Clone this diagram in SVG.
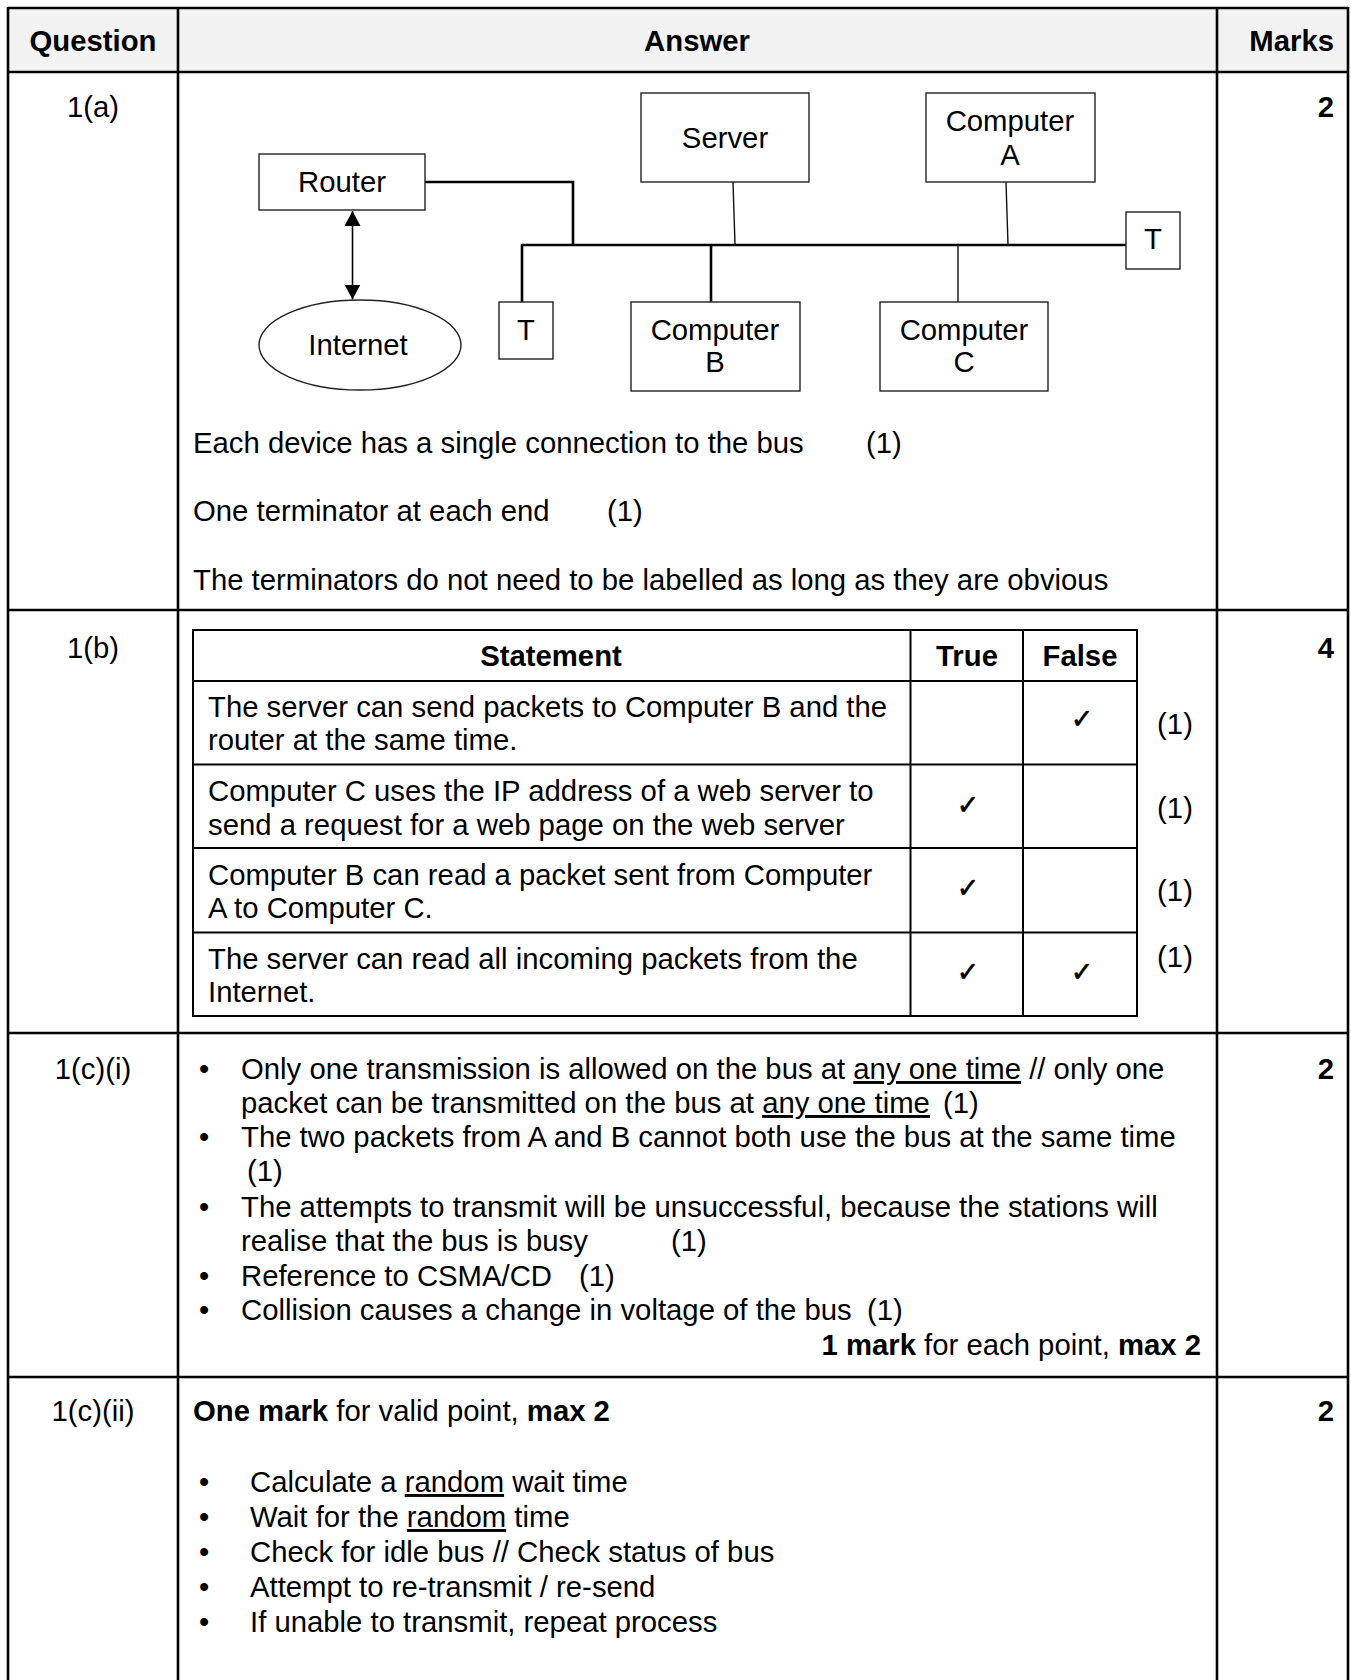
<svg xmlns="http://www.w3.org/2000/svg" width="1351" height="1680" viewBox="0 0 1351 1680">
<style>
text{font-family:"Liberation Sans",Arial,sans-serif;font-size:29.3px;fill:#000}
.b{font-weight:bold}
.c{text-anchor:middle}
.r{text-anchor:end}
.u{text-decoration:underline}
.ck{font-family:"DejaVu Sans",sans-serif;font-size:27px;text-anchor:middle;stroke:#000;stroke-width:0.6}
.grid{stroke:#000;stroke-width:2.6;fill:none}
.inner{stroke:#000;stroke-width:2;fill:none}
.box{fill:#fff;stroke:#222;stroke-width:1.4}
.thick{stroke:#000;stroke-width:2.6;fill:none}
.thin{stroke:#111;stroke-width:1.4;fill:none}
</style>
<defs>
<marker id="ah" viewBox="0 0 15 16" refX="15" refY="8" markerWidth="15" markerHeight="16" markerUnits="userSpaceOnUse" orient="auto-start-reverse">
<path d="M0,0 L15,8 L0,16 z" fill="#000"/>
</marker>
</defs>
<rect width="1351" height="1680" fill="#fff"/>
<rect x="8" y="8" width="1340" height="64" fill="#f2f2f2"/>
<g id="table-grid">
<line class="grid" x1="8" y1="8" x2="1348" y2="8"/>
<line class="grid" x1="8" y1="72" x2="1348" y2="72"/>
<line class="grid" x1="8" y1="610" x2="1348" y2="610"/>
<line class="grid" x1="8" y1="1033" x2="1348" y2="1033"/>
<line class="grid" x1="8" y1="1377" x2="1348" y2="1377"/>
<line class="grid" x1="8" y1="7" x2="8" y2="1680"/>
<line class="grid" x1="178" y1="7" x2="178" y2="1680"/>
<line class="grid" x1="1217" y1="7" x2="1217" y2="1680"/>
<line class="grid" x1="1348" y1="7" x2="1348" y2="1680"/>
</g>
<text class="b c" x="93" y="51">Question</text>
<text class="b c" x="697" y="51">Answer</text>
<text class="b r" x="1334" y="51">Marks</text>

<text class="c" x="93" y="117">1(a)</text>
<text class="b r" x="1334" y="117">2</text>

<g id="connectors">
<polyline class="thick" points="425,182 573,182 573,245"/>
<line class="thick" x1="522" y1="245" x2="1126" y2="245"/>
<line class="thick" x1="522" y1="244" x2="522" y2="302"/>
<line class="thin" x1="733" y1="182" x2="735" y2="245"/>
<line class="thin" x1="1006" y1="182" x2="1008" y2="245"/>
<line class="thick" x1="711" y1="245" x2="711" y2="302"/>
<line class="thin" x1="958" y1="245" x2="958" y2="302"/>
<line x1="352.5" y1="211" x2="352.5" y2="299.5" stroke="#000" stroke-width="1.6" marker-start="url(#ah)" marker-end="url(#ah)"/>
</g>

<g id="router"><rect class="box" x="259" y="154" width="166" height="56"/><text class="c" x="342" y="192">Router</text></g>
<g id="internet"><ellipse class="box" cx="360" cy="345" rx="101" ry="45"/><text class="c" x="358" y="355">Internet</text></g>
<g id="server"><rect class="box" x="641" y="93" width="168" height="89"/><text class="c" x="725" y="148">Server</text></g>
<g id="computer-a"><rect class="box" x="926" y="93" width="169" height="89"/><text class="c" x="1010" y="131">Computer</text><text class="c" x="1010" y="165">A</text></g>
<g id="terminator-left"><rect class="box" x="499" y="302" width="54" height="57"/><text class="c" x="526" y="340">T</text></g>
<g id="terminator-right"><rect class="box" x="1126" y="212" width="54" height="57"/><text class="c" x="1153" y="249">T</text></g>
<g id="computer-b"><rect class="box" x="631" y="302" width="169" height="89"/><text class="c" x="715" y="340">Computer</text><text class="c" x="715" y="372">B</text></g>
<g id="computer-c"><rect class="box" x="880" y="302" width="168" height="89"/><text class="c" x="964" y="340">Computer</text><text class="c" x="964" y="372">C</text></g>

<text x="193" y="453">Each device has a single connection to the bus</text>
<text x="866" y="453">(1)</text>
<text x="193" y="521">One terminator at each end</text>
<text x="607" y="521">(1)</text>
<text x="193" y="590">The terminators do not need to be labelled as long as they are obvious</text>

<text class="c" x="93" y="658">1(b)</text>
<text class="b r" x="1334" y="658">4</text>
<g id="statement-table">
<rect class="inner" x="193" y="630" width="944" height="386"/>
<line class="inner" x1="193" y1="681" x2="1137" y2="681"/>
<line class="inner" x1="193" y1="764.5" x2="1137" y2="764.5"/>
<line class="inner" x1="193" y1="848" x2="1137" y2="848"/>
<line class="inner" x1="193" y1="932.5" x2="1137" y2="932.5"/>
<line class="inner" x1="910.5" y1="630" x2="910.5" y2="1016"/>
<line class="inner" x1="1023" y1="630" x2="1023" y2="1016"/>
</g>
<text class="b c" x="551" y="666">Statement</text>
<text class="b c" x="967" y="666">True</text>
<text class="b c" x="1080" y="666">False</text>

<text x="208" y="716.5">The server can send packets to Computer B and the</text>
<text x="208" y="749.5">router at the same time.</text>
<text x="208" y="801">Computer C uses the IP address of a web server to</text>
<text x="208" y="834.5">send a request for a web page on the web server</text>
<text x="208" y="884.5">Computer B can read a packet sent from Computer</text>
<text x="208" y="918">A to Computer C.</text>
<text x="208" y="968.5">The server can read all incoming packets from the</text>
<text x="208" y="1002">Internet.</text>

<text class="ck" x="1082" y="728">✓</text>
<text class="ck" x="968" y="814">✓</text>
<text class="ck" x="968" y="897">✓</text>
<text class="ck" x="968" y="981">✓</text>
<text class="ck" x="1082" y="981">✓</text>

<text class="c" x="1175" y="734">(1)</text>
<text class="c" x="1175" y="818">(1)</text>
<text class="c" x="1175" y="901">(1)</text>
<text class="c" x="1175" y="967">(1)</text>

<text class="c" x="93" y="1079">1(c)(i)</text>
<text class="b r" x="1334" y="1079">2</text>
<text x="199" y="1079">•</text>
<text x="241" y="1079">Only one transmission is allowed on the bus at <tspan class="u">any one time</tspan> // only one</text>
<text x="241" y="1113">packet can be transmitted on the bus at <tspan class="u">any one time</tspan></text>
<text x="943" y="1113">(1)</text>
<text x="199" y="1147">•</text>
<text x="241" y="1147">The two packets from A and B cannot both use the bus at the same time</text>
<text x="247" y="1181">(1)</text>
<text x="199" y="1217">•</text>
<text x="241" y="1217">The attempts to transmit will be unsuccessful, because the stations will</text>
<text x="241" y="1251">realise that the bus is busy</text>
<text x="671" y="1251">(1)</text>
<text x="199" y="1286">•</text>
<text x="241" y="1286">Reference to CSMA/CD</text>
<text x="579" y="1286">(1)</text>
<text x="199" y="1320">•</text>
<text x="241" y="1320">Collision causes a change in voltage of the bus</text>
<text x="867" y="1320">(1)</text>
<text class="r" x="1201" y="1355"><tspan class="b">1 mark</tspan> for each point, <tspan class="b">max 2</tspan></text>

<text class="c" x="93" y="1421">1(c)(ii)</text>
<text class="b r" x="1334" y="1421">2</text>
<text x="193" y="1421"><tspan class="b">One mark</tspan> for valid point, <tspan class="b">max 2</tspan></text>
<text x="199" y="1492">•</text>
<text x="250" y="1492">Calculate a <tspan class="u">random</tspan> wait time</text>
<text x="199" y="1527">•</text>
<text x="250" y="1527">Wait for the <tspan class="u">random</tspan> time</text>
<text x="199" y="1562">•</text>
<text x="250" y="1562">Check for idle bus // Check status of bus</text>
<text x="199" y="1597">•</text>
<text x="250" y="1597">Attempt to re-transmit / re-send</text>
<text x="199" y="1632">•</text>
<text x="250" y="1632">If unable to transmit, repeat process</text>
</svg>
